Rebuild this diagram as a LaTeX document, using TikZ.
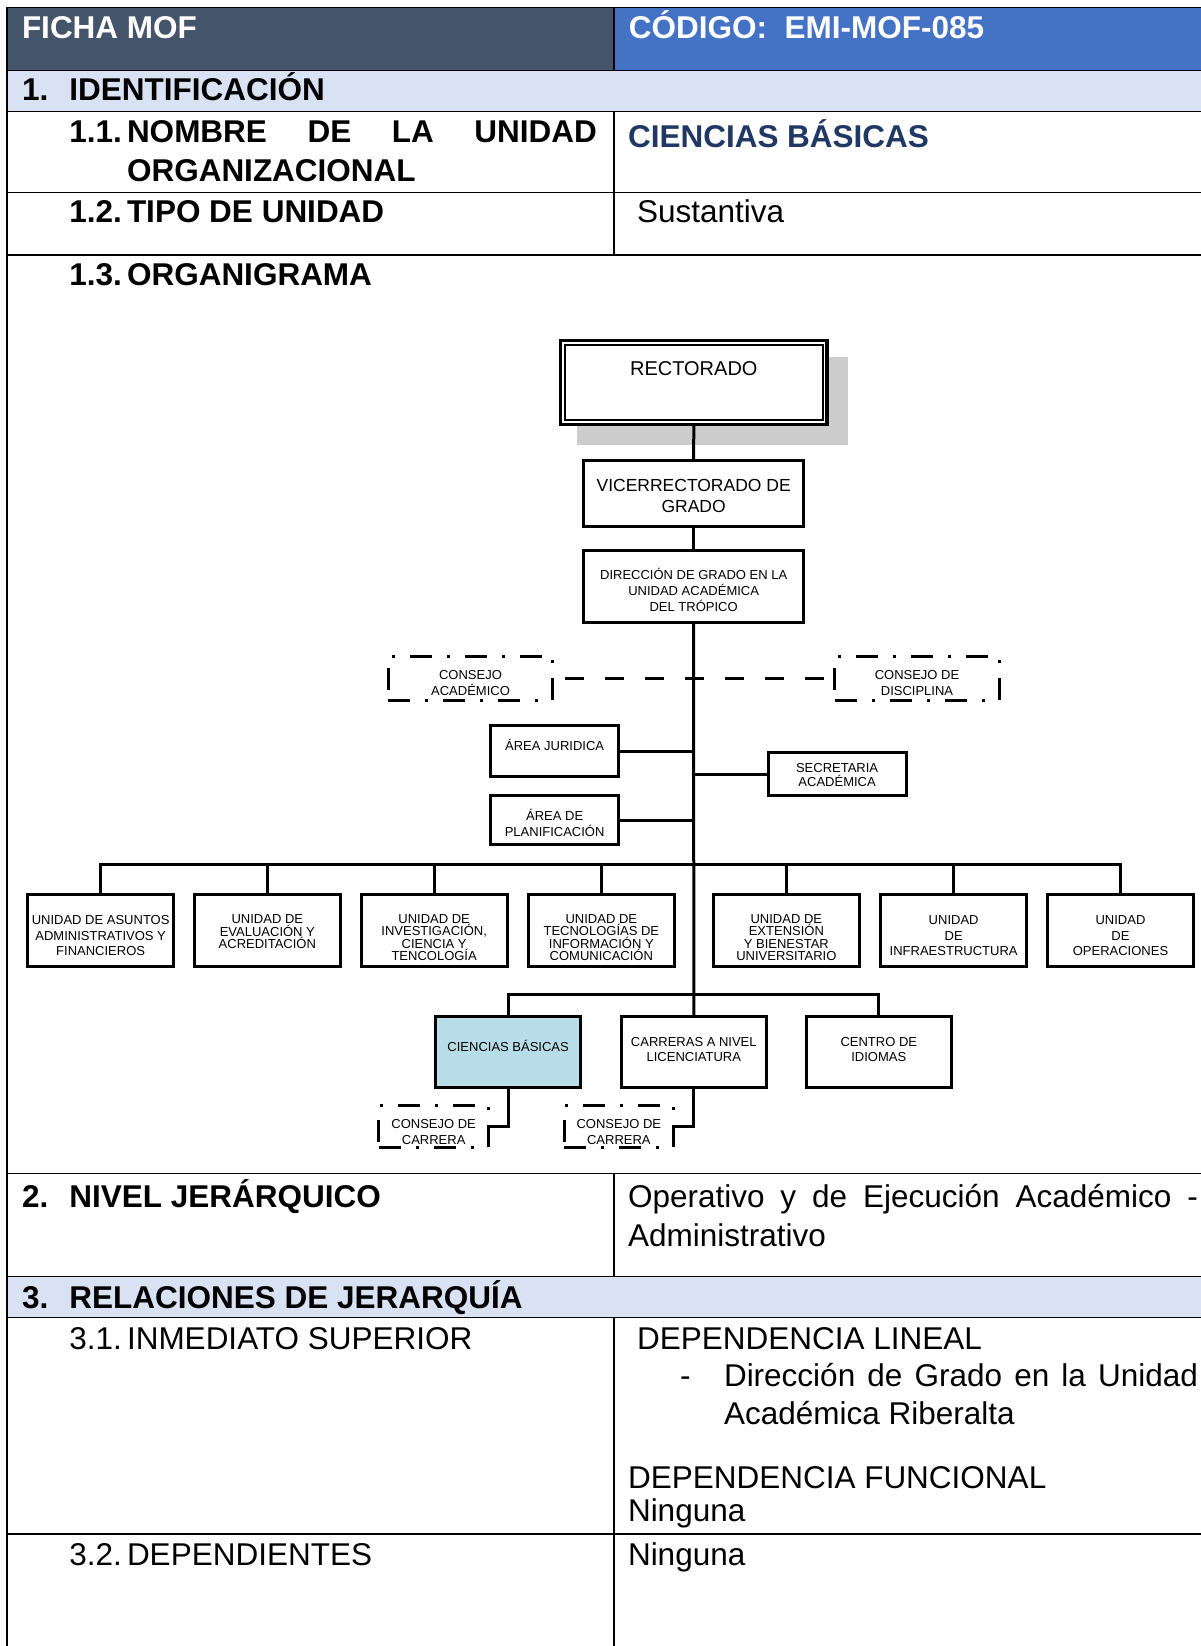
\documentclass[tikz,border=0pt]{standalone}
\usepackage{fontspec}
\setmainfont{Liberation Sans}
\definecolor{hdark}{HTML}{44546A}
\definecolor{hblue}{HTML}{4472C4}
\definecolor{hlight}{HTML}{D9E2F3}
\definecolor{cbfill}{HTML}{B7DEE8}
\definecolor{navy}{HTML}{1F3864}
\definecolor{shadowgray}{HTML}{CCCCCC}
\begin{document}
\begin{tikzpicture}[x=1pt,y=-1pt,
  tline/.style={line width=1.5pt},
  txt/.style={anchor=base west, inner sep=0pt, outer sep=0pt},
  hb/.style={txt, font=\fontsize{31.5}{38}\selectfont\bfseries},
  hr/.style={txt, font=\fontsize{31.5}{38}\selectfont},
  conn/.style={line width=3pt},
  obox/.style={draw, line width=3pt, fill=white, inner sep=0pt},
  ubox/.style={obox, minimum width=146pt, minimum height=72pt},
  bbox/.style={obox, minimum width=145.3pt, minimum height=71.3pt},
  ddbox/.style={draw, line width=3pt, dash pattern=on 22pt off 15pt on 3pt off 15pt, inner sep=0pt},
  lbl/.style={inner sep=0pt, align=center, font=\fontsize{13}{15.5}\selectfont},
  dline/.style={line width=3pt, dash pattern=on 19pt off 21pt, dash phase=29.5pt}
]
\useasboundingbox (0,0) rectangle (1201,1646);
\fill[white] (0,0) rectangle (1201,1646);
% table fills
\fill[hdark] (7,7.3) rectangle (614,70.7);
\fill[hblue] (614,7.3) rectangle (1201,70.7);
\fill[hlight] (7,70.7) rectangle (1201,111.7);
\fill[hlight] (7,1276.6) rectangle (1201,1317.5);
% table lines
\foreach \yy in {7.3,70.7,111.7,192.3,255,1173.7,1276.6,1317.5,1533.8} \draw[tline] (7,\yy) -- (1201,\yy);
\draw[tline] (7,7.3) -- (7,1646);
\draw[tline] (614,7.3) -- (614,70.7);
\draw[tline] (614,111.7) -- (614,255);
\draw[tline] (614,1173.7) -- (614,1276.6);
\draw[tline] (614,1317.5) -- (614,1646);
% table texts
\node[hb, text=white] (t1) at (22,38.5) {FICHA MOF};
\node[hb, text=white] (t2) at (628.8,38.5) {CÓDIGO:\ \ EMI-MOF-085};
\node[hb] (t3) at (22,100) {1.};
\node[hb] (t4) at (69.3,100) {IDENTIFICACIÓN};
\node[hb] (t5) at (69.3,142.5) {1.1.};
\node[hb] (t6) at (127,142.5) {\makebox[470pt][s]{NOMBRE DE LA UNIDAD}};
\node[hb] (t7) at (127,181.5) {ORGANIZACIONAL};
\node[hb, text=navy] (t8) at (628,147) {CIENCIAS BÁSICAS};
\node[hb] (t9) at (69.3,222) {1.2.};
\node[hb] (t10) at (127,222) {TIPO DE UNIDAD};
\node[hr] (t11) at (637,222) {Sustantiva};
\node[hb] (t12) at (69.3,285) {1.3.};
\node[hb] (t13) at (127,285) {ORGANIGRAMA};
\node[hb] (t14) at (22,1207) {2.};
\node[hb] (t15) at (69.3,1207) {NIVEL JERÁRQUICO};
\node[hr] (t16) at (628,1207) {\makebox[570pt][s]{Operativo y de Ejecución Académico -}};
\node[hr] (t17) at (628,1246) {Administrativo};
\node[hb] (t18) at (22,1308) {3.};
\node[hb] (t19) at (69.3,1308) {RELACIONES DE JERARQUÍA};
\node[hr] (t20) at (69.3,1349) {3.1.};
\node[hr] (t21) at (127,1349) {INMEDIATO SUPERIOR};
\node[hr] (t22) at (637,1349) {DEPENDENCIA LINEAL};
\node[hr] (t23) at (680,1386) {-};
\node[hr] (t24) at (724,1386) {\makebox[474pt][s]{Dirección de Grado en la Unidad}};
\node[hr] (t25) at (724,1424.5) {Académica Riberalta};
\node[hr] (t26) at (628,1488) {DEPENDENCIA FUNCIONAL};
\node[hr] (t27) at (628,1521) {Ninguna};
\node[hr] (t28) at (69.3,1565) {3.2.};
\node[hr] (t29) at (127,1565) {DEPENDIENTES};
\node[hr] (t30) at (628,1565) {Ninguna};
% org chart boxes
\fill[shadowgray] (576.7,356.7) rectangle (847.7,445);
\node[draw, line width=3.3pt, fill=white, minimum width=266.4pt, minimum height=83.8pt, inner sep=0pt] (rect) at (693.8,382.5) {};
\node[draw, line width=1.8pt, minimum width=258pt, minimum height=75pt, inner sep=0pt] (recti) at (rect.center) {};
\node[obox, minimum width=220.3pt, minimum height=65.7pt] (vice) at (693.65,493.65) {};
\node[obox, minimum width=220.3pt, minimum height=72pt] (dir) at (693.65,586.5) {};
\node[ddbox, minimum width=164.6pt, minimum height=44.3pt] (ca) at (470.5,678.7) {};
\node[ddbox, minimum width=164.6pt, minimum height=44.3pt] (cd) at (917,678.7) {};
\node[obox, minimum width=127.7pt, minimum height=51pt] (aj) at (554.65,751.3) {};
\node[obox, minimum width=137.8pt, minimum height=43.3pt] (sec) at (837.1,774.15) {};
\node[obox, minimum width=127.7pt, minimum height=48.4pt] (plan) at (554.65,820) {};
\node[ubox] (u1) at (100.65,930.8) {};
\node[ubox] (u2) at (267.35,930.8) {};
\node[ubox] (u3) at (434.15,930.8) {};
\node[ubox] (u4) at (601.35,930.8) {};
\node[ubox] (u5) at (786.35,930.8) {};
\node[ubox] (u6) at (953.65,930.8) {};
\node[ubox] (u7) at (1120.5,930.8) {};
\node[bbox, fill=cbfill] (cb) at (508.15,1052.15) {};
\node[bbox] (car) at (693.8,1052.15) {};
\node[bbox] (ci) at (878.8,1052.15) {};
\node[ddbox, minimum width=109.5pt, minimum height=42pt] (cc1) at (433.65,1126.8) {};
\node[ddbox, minimum width=109.5pt, minimum height=42pt] (cc2) at (618.85,1126.8) {};
% org chart labels
\node[lbl, font=\fontsize{20}{24}\selectfont] (rtext) at (693.8,369) {RECTORADO};
\node[lbl, font=\fontsize{17.5}{21}\selectfont] (vicet) at ([yshift=-2pt]vice.center) {VICERRECTORADO DE\\GRADO};
\node[lbl, font=\fontsize{13}{16}\selectfont] (dirt) at ([yshift=-3pt]dir.center) {DIRECCIÓN DE GRADO EN LA\\UNIDAD ACADÉMICA\\DEL TRÓPICO};
\node[lbl, font=\fontsize{13}{16}\selectfont] (cat) at ([yshift=-4pt]ca.center) {CONSEJO\\ACADÉMICO};
\node[lbl, font=\fontsize{13}{16}\selectfont] (cdt) at ([yshift=-4pt]cd.center) {CONSEJO DE\\DISCIPLINA};
\node[lbl] (ajt) at ([yshift=6.3pt]aj.center) {ÁREA JURIDICA};
\node[lbl, font=\fontsize{13}{13.4}\selectfont] (sect) at ([yshift=-1pt]sec.center) {SECRETARIA\\ACADÉMICA};
\node[lbl, font=\fontsize{13}{16.7}\selectfont] (plant) at ([yshift=-3pt]plan.center) {ÁREA DE\\PLANIFICACIÓN};
\node[lbl, font=\fontsize{13}{15.5}\selectfont] (u1t) at ([yshift=-5.2pt]u1.center) {UNIDAD DE ASUNTOS\\ADMINISTRATIVOS Y\\FINANCIEROS};
\node[lbl, font=\fontsize{13}{12.4}\selectfont] (u2t) at ([yshift=-1pt]u2.center) {UNIDAD DE\\EVALUACIÓN Y\\ACREDITACIÓN};
\node[lbl, font=\fontsize{13}{12.6}\selectfont] (u3t) at ([yshift=-6.8pt]u3.center) {UNIDAD DE\\INVESTIGACIÓN,\\CIENCIA Y\\TENCOLOGÍA};
\node[lbl, font=\fontsize{13}{12.6}\selectfont] (u4t) at ([yshift=-6.8pt]u4.center) {UNIDAD DE\\TECNOLOGÍAS DE\\INFORMACIÓN Y\\COMUNICACIÓN};
\node[lbl, font=\fontsize{13}{12.6}\selectfont] (u5t) at ([yshift=-6.8pt]u5.center) {UNIDAD DE\\EXTENSIÓN\\Y BIENESTAR\\UNIVERSITARIO};
\node[lbl, font=\fontsize{13}{15.5}\selectfont] (u6t) at ([yshift=-5.2pt]u6.center) {UNIDAD\\DE\\INFRAESTRUCTURA};
\node[lbl, font=\fontsize{13}{15.5}\selectfont] (u7t) at ([yshift=-5.2pt]u7.center) {UNIDAD\\DE\\OPERACIONES};
\node[lbl] (cbt) at ([yshift=6pt]cb.center) {CIENCIAS BÁSICAS};
\node[lbl, font=\fontsize{13}{15}\selectfont] (cart) at ([yshift=2.6pt]car.center) {CARRERAS A NIVEL\\LICENCIATURA};
\node[lbl, font=\fontsize{13}{15}\selectfont] (cit) at ([yshift=2.6pt]ci.center) {CENTRO DE\\IDIOMAS};
\node[lbl, font=\fontsize{13}{16}\selectfont] (cc1t) at ([yshift=-5pt]cc1.center) {CONSEJO DE\\CARRERA};
\node[lbl, font=\fontsize{13}{16}\selectfont] (cc2t) at ([yshift=-5pt]cc2.center) {CONSEJO DE\\CARRERA};
% connectors
\coordinate (bus) at (694,864);
\coordinate (sbus) at (694,994);
\draw[dline] (ca.east) -- (cd.west);
\draw[conn] (rect.south) -- (vice.north);
\draw[conn] (vice.south) -- (dir.north);
\draw[conn] (dir.south) -- (car.north);
\draw[conn] (aj.east) -- (aj.east -| dir.south);
\draw[conn] (plan.east) -- (plan.east -| dir.south);
\draw[conn] (sec.west) -- (sec.west -| dir.south);
\draw[conn] (u1.north) |- (bus -| u7.north) -- (u7.north);
\draw[conn] (u2.north) -- (u2.north |- bus);
\draw[conn] (u3.north) -- (u3.north |- bus);
\draw[conn] (u4.north) -- (u4.north |- bus);
\draw[conn] (u5.north) -- (u5.north |- bus);
\draw[conn] (u6.north) -- (u6.north |- bus);
\draw[conn] (cb.north) |- (sbus -| ci.north) -- (ci.north);
\draw[conn] (cb.south) |- (cc1.east);
\draw[conn] (car.south) |- (cc2.east);
\end{tikzpicture}
\end{document}
